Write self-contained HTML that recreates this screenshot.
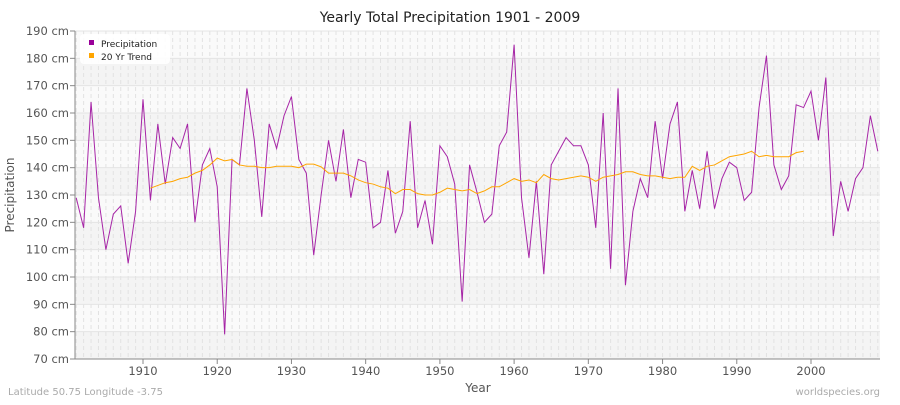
<!DOCTYPE html>
<html><head><meta charset="utf-8"><style>
body{margin:0;background:#fff;font-family:"Liberation Sans",sans-serif}
svg text{font-family:"DejaVu Sans","Liberation Sans",sans-serif}
</style></head><body>
<svg id="c" width="900" height="400" xmlns="http://www.w3.org/2000/svg">
<text x="450" y="22" text-anchor="middle" font-size="14" fill="#222">Yearly Total Precipitation 1901 - 2009</text>
<g id="bg"></g><g id="grid"></g><g id="axes"></g><g id="series"></g>
<text x="14" y="195" transform="rotate(-90 14 195)" text-anchor="middle" font-size="12" fill="#555">Precipitation</text>
<text x="478" y="392" text-anchor="middle" font-size="12" fill="#555">Year</text>
<text x="8" y="395" font-size="10" fill="#aaa">Latitude 50.75 Longitude -3.75</text>
<text x="880" y="395" text-anchor="end" font-size="10" fill="#aaa">worldspecies.org</text>
<g>
<rect x="80" y="34" width="90" height="30" rx="4" fill="#fff" opacity="0.9"/>
<rect x="89" y="40" width="5" height="5" fill="#990099"/>
<text x="101" y="47" font-size="9" fill="#222">Precipitation</text>
<rect x="89" y="53" width="5" height="5" fill="#FFA500"/>
<text x="101" y="60" font-size="9" fill="#222">20 Yr Trend</text>
</g>
</svg>
<script>
const years=[];for(let y=1901;y<=2009;y++)years.push(y);
const precip=[129,118,164,129,110,123,126,105,124,165,128,156,134,151,147,156,120,141,147,133,79,143,141,169,150,122,156,147,159,166,143,138,108,130,150,135,154,129,143,142,118,120,139,116,124,157,118,128,112,148,144,134,91,141,131,120,123,148,153,185,129,107,135,101,141,146,151,148,148,141,118,160,103,169,97,124,136,129,157,136,156,164,124,139,125,146,125,136,142,140,128,131,162,181,141,132,137,163,162,168,150,173,115,135,124,136,140,159,146];
const trendStart=1911;
const trend=[132.5,133.5,134.5,135,136,136.5,138,139,141,143.5,142.5,143,141,140.5,140.5,140,140,140.5,140.5,140.5,140,141.3,141.3,140.3,138,138,138,137,135.5,134.5,134,133,132.5,130.5,132,132,130.5,130,130,131,132.5,132,131.5,132,130.5,131.5,133,133,134.5,136,135,135.5,134.5,137.5,136,135.5,136,136.5,137,136.5,135,136.5,137,137.5,138.5,138.5,137.5,137,137,136.5,136,136.5,136.5,140.5,139,140.5,141,142.5,144,144.5,145,146,144,144.5,144,144,144,145.5,146];
const yTicks=[70,80,90,100,110,120,130,140,150,160,170,180,190];
const xTicks=[1910,1920,1930,1940,1950,1960,1970,1980,1990,2000];
const L=75,R=880,T=31,B=359;
const xs=y=>76.2+(y-1901)*(668/90);
const ys=v=>B-(v-70)*(B-T)/120;
const NS='http://www.w3.org/2000/svg';
function mk(p,tag,at){const e=document.createElementNS(NS,tag);for(const k in at)e.setAttribute(k,at[k]);document.getElementById(p).appendChild(e);return e;}
for(let i=0;i<yTicks.length-1;i++){
 const r=mk('bg','rect',{x:L,y:ys(yTicks[i+1]),width:R-L,height:ys(yTicks[i])-ys(yTicks[i+1]),fill:i%2===0?'#f4f4f4':'#fafafa'});
 
 
}
years.forEach(y=>{const l=mk('grid','line',{x1:xs(y),x2:xs(y),y1:T,y2:B,stroke:'#e2e2e2','stroke-dasharray':'4,3','stroke-width':1});
 
 });
yTicks.forEach(v=>{const l=mk('grid','line',{x1:L,x2:R,y1:ys(v),y2:ys(v),stroke:'#e4e4e4','stroke-width':1});
 
 
 mk('axes','line',{x1:L-5,x2:L,y1:ys(v),y2:ys(v),stroke:'#888'});
 const t=mk('axes','text',{x:L-6,y:ys(v)+4,'text-anchor':'end','font-size':11.5,fill:'#555'});t.textContent=v+' cm';
 
 });
xTicks.forEach(y=>{mk('axes','line',{x1:xs(y),x2:xs(y),y1:B,y2:B+5,stroke:'#888'});
 const t=mk('axes','text',{x:xs(y),y:B+16,'text-anchor':'middle','font-size':11.5,fill:'#555'});t.textContent=y;
 
 });
mk('axes','line',{x1:L,x2:L,y1:T,y2:B,stroke:'#888'});
mk('axes','line',{x1:L,x2:R,y1:B,y2:B,stroke:'#888'});
const p=mk('series','polyline',{points:precip.map((v,i)=>xs(years[i])+','+ys(v)).join(' '),fill:'none',stroke:'#990099','stroke-width':1,opacity:0.85});


const t=mk('series','polyline',{points:trend.map((v,i)=>xs(trendStart+i)+','+ys(v)).join(' '),fill:'none',stroke:'#FFA500','stroke-width':1});


</script>
</body></html>
